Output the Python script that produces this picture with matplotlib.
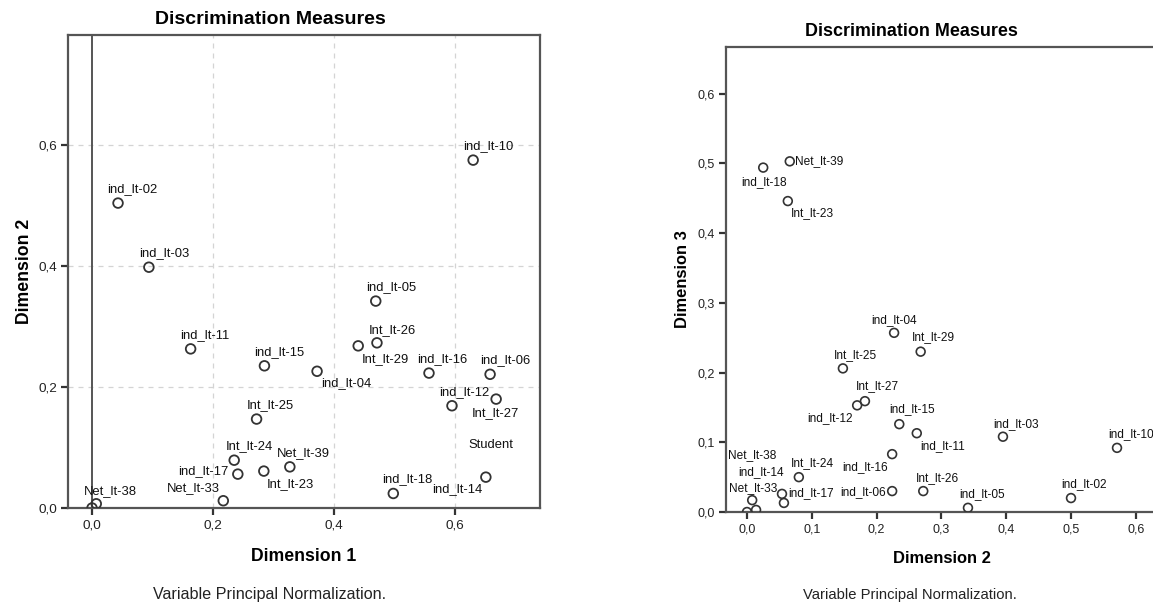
import matplotlib
matplotlib.use("Agg")
import matplotlib.pyplot as plt
from matplotlib.ticker import FixedLocator, FuncFormatter

plt.rcParams['font.family'] = ['Liberation Sans', 'DejaVu Sans']

# ---------------- data: chart 1 (Dimension 1 vs Dimension 2) ----------------
names1 = ["ind_lt-10", "ind_lt-02", "ind_lt-03", "ind_lt-11", "ind_lt-15", "Int_lt-25",
          "Int_lt-24", "ind_lt-17", "Net_lt-33", "Int_lt-23", "Net_lt-39", "Net_lt-38",
          "ind_lt-05", "Int_lt-26", "Int_lt-29", "ind_lt-04", "ind_lt-16", "ind_lt-06",
          "ind_lt-12", "Int_lt-27", "Student", "ind_lt-18", "ind_lt-14"]
dim1_c1 = [0.630, 0.043, 0.094, 0.163, 0.285, 0.272,
           0.235, 0.241, 0.217, 0.284, 0.327, 0.007,
           0.469, 0.471, 0.440, 0.372, 0.557, 0.658,
           0.595, 0.668, 0.651, 0.498, 0.000]
dim2_c1 = [0.575, 0.504, 0.398, 0.263, 0.235, 0.147,
           0.079, 0.056, 0.012, 0.061, 0.068, 0.007,
           0.342, 0.273, 0.268, 0.226, 0.223, 0.221,
           0.169, 0.180, 0.051, 0.024, 0.000]
# label offsets in pixels (style only)
off1 = [(15, 14), (14, 14), (15, 14), (14, 14), (15, 14), (14, 14),
        (15, 14), (-35, 3), (-30, 13), (27, -13), (14, 14), (14, 13),
        (15, 14), (15, 13), (27, -13), (29, -12), (13, 14), (15, 14),
        (12, 14), (-1, -14), (5, 32), (14, 14), (365, 19)]

# ---------------- data: chart 2 (Dimension 2 vs Dimension 3) ----------------
names2 = ["ind_lt-18", "Net_lt-39", "Int_lt-23", "Int_lt-25", "Int_lt-27", "ind_lt-12",
          "ind_lt-04", "Int_lt-29", "ind_lt-15", "ind_lt-11", "ind_lt-03", "ind_lt-10",
          "ind_lt-16", "ind_lt-06", "Int_lt-26", "ind_lt-05", "ind_lt-02", "Int_lt-24",
          "ind_lt-17", "Net_lt-33", "ind_lt-14", "Net_lt-38", "Student"]
dim2_c2 = [0.025, 0.066, 0.063, 0.148, 0.182, 0.170,
           0.227, 0.268, 0.235, 0.262, 0.395, 0.571,
           0.224, 0.224, 0.272, 0.341, 0.500, 0.080,
           0.057, 0.008, 0.014, 0.000, 0.054]
dim3_c2 = [0.494, 0.503, 0.446, 0.206, 0.159, 0.153,
           0.257, 0.230, 0.126, 0.113, 0.108, 0.092,
           0.083, 0.030, 0.030, 0.006, 0.020, 0.050,
           0.013, 0.017, 0.003, 0.000, 0.026]
off2 = [(1, -14), (29, 0), (25, -12), (13, 13), (13, 15), (-27, -13),
        (0, 13), (13, 15), (13, 15), (26, -13), (13, 13), (14, 14),
        (-27, -13), (-29, -1), (14, 13), (14, 14), (13, 14), (14, 14),
        (27, 10), (1, 12), (5, 38), (5, 57), None]

xticks1 = [0.0, 0.2, 0.4, 0.6]
yticks1 = [0.0, 0.2, 0.4, 0.6]
xticks2 = [0.0, 0.1, 0.2, 0.3, 0.4, 0.5, 0.6]
yticks2 = [0.0, 0.1, 0.2, 0.3, 0.4, 0.5, 0.6]

title_txt = "Discrimination Measures"
foot_txt = "Variable Principal Normalization."

W, H = 1153, 603
fig = plt.figure(figsize=(W / 100, H / 100), dpi=100)

def px_axes(l, t, r, b):
    return fig.add_axes([l / W, (H - b) / H, (r - l) / W, (b - t) / H])

comma = FuncFormatter(lambda v, p: f"{v:.1f}".replace(".", ","))
spine_c = "#555555"
mark_c = "#333333"

def style(ax, xt, yt, tsize):
    for s in ax.spines.values():
        s.set_color(spine_c)
        s.set_linewidth(1.6)
    ax.xaxis.set_major_locator(FixedLocator(xt))
    ax.yaxis.set_major_locator(FixedLocator(yt))
    ax.xaxis.set_major_formatter(comma)
    ax.yaxis.set_major_formatter(comma)
    ax.tick_params(axis='both', direction='out', length=5, width=1.6, color="#333333",
                   labelsize=tsize, labelcolor="#222222", pad=3)

# ---- chart 1 ----
ax1 = px_axes(68, 35, 540, 508)
ax1.set_xlim(-0.0397, 0.7405)
ax1.set_ylim(0.0, 0.7818)
style(ax1, xticks1, yticks1, 9.7)
for v in xticks1[1:]:
    ax1.axvline(v, color="#d4d4d4", lw=0.9, ls=(0, (4, 4)), zorder=0)
for v in yticks1[1:]:
    ax1.axhline(v, color="#d4d4d4", lw=0.9, ls=(0, (4, 4)), zorder=0)
ax1.axvline(0, color="#555555", lw=1.4, zorder=1)
ax1.scatter(dim1_c1, dim2_c1, s=48, facecolors='none', edgecolors=mark_c, linewidths=1.3, zorder=3)
for n, x, y, o in zip(names1, dim1_c1, dim2_c1, off1):
    ax1.annotate(n, (x, y), xytext=o, textcoords='offset pixels', ha='center', va='center',
                 fontsize=9.4, color="#111111", annotation_clip=False)
ax1.set_xlabel("Dimension 1", fontsize=12.7, fontweight='bold')
ax1.set_ylabel("Dimension 2", fontsize=12.7, fontweight='bold')
ax1.xaxis.set_label_coords((304 - 68) / 472, (508 - 548) / 473)
ax1.yaxis.set_label_coords((33 - 68) / 472, (508 - 271) / 473)
fig.text(270 / W, 1 - 20 / H, title_txt, ha='center', va='center', fontsize=14, fontweight='bold')
fig.text(270 / W, 1 - 595 / H, foot_txt, ha='center', va='center', fontsize=11.6, color="#222222")

# ---- chart 2 ----
ax2 = px_axes(726, 47, 1165, 512)
ax2.set_xlim(-0.0324, (1165 - 747) / 648)
ax2.set_ylim(0.0, 0.667)
style(ax2, xticks2, yticks2, 9.0)
ax2.scatter(dim2_c2, dim3_c2, s=40, facecolors='none', edgecolors=mark_c, linewidths=1.2, zorder=3)
for n, x, y, o in zip(names2, dim2_c2, dim3_c2, off2):
    if o is None:
        continue
    ax2.annotate(n, (x, y), xytext=o, textcoords='offset pixels', ha='center', va='center',
                 fontsize=8.6, color="#111111", annotation_clip=False)
ax2.set_xlabel("Dimension 2", fontsize=11.9, fontweight='bold')
ax2.set_ylabel("Dimension 3", fontsize=11.9, fontweight='bold')
ax2.xaxis.set_label_coords((942 - 726) / 439, (512 - 551) / 465)
ax2.yaxis.set_label_coords((690 - 726) / 439, 0.5)
fig.text(911 / W, 1 - 32 / H, title_txt, ha='center', va='center', fontsize=12.9, fontweight='bold')
fig.text(910 / W, 1 - 595 / H, foot_txt, ha='center', va='center', fontsize=10.6, color="#222222")

fig.savefig("out.png", dpi=100)
